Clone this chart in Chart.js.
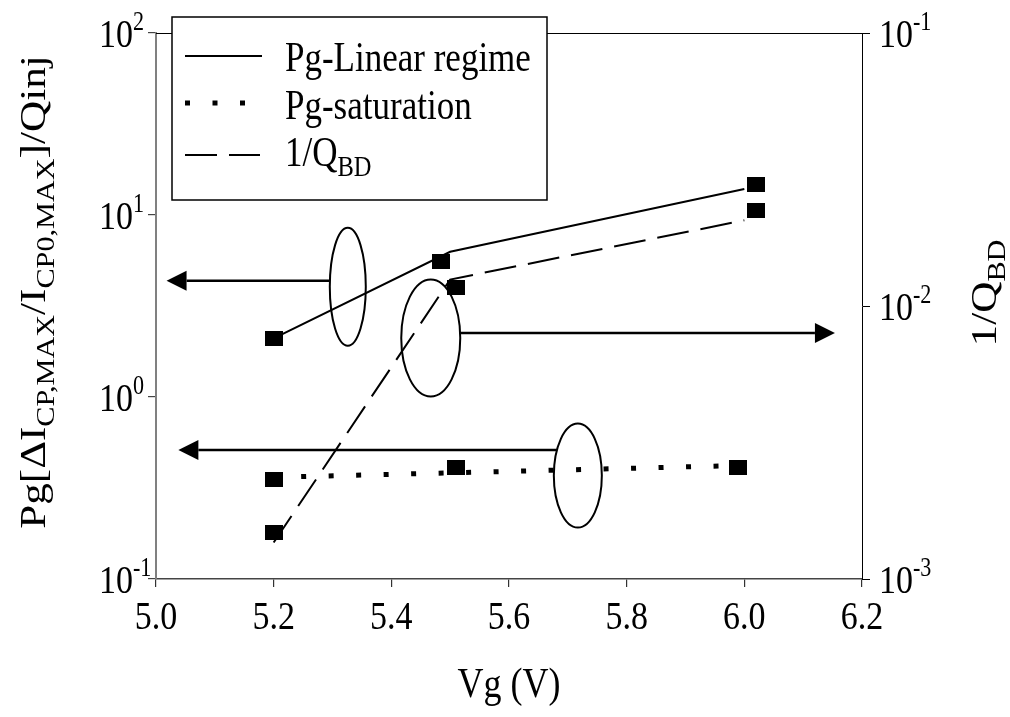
<!DOCTYPE html>
<html>
<head>
<meta charset="utf-8">
<script src="https://cdn.jsdelivr.net/npm/chart.js@4.4.0/dist/chart.umd.min.js"></script>
<style>
  html, body { margin: 0; padding: 0; background: #fff; }
  #wrap { width: 1010px; height: 717px; }
</style>
</head>
<body>
<div id="wrap"><canvas id="myChart"></canvas></div>
<script>
// measured points
const linearVg = [5.20, 5.485, 6.02];
const linearPg = [2.09, 5.57, 14.7];
const satVg = [5.20, 5.51, 5.99];
const satPg = [0.35, 0.41, 0.41];
const qbdVg = [5.20, 5.51, 6.02];
const qbdInv = [0.00148, 0.0117, 0.0224];

// guide curves
const linearFitVg = [5.20, 5.50, 6.00];
const linearFitPg = [2.10, 6.28, 13.9];
const satFitVg = [5.20, 5.50, 6.00];
const satFitPg = [0.362, 0.383, 0.421];
const qbdFitVg = [5.20, 5.50, 6.00];
const qbdFitInv = [0.00136, 0.0125, 0.0206];

// axes
const xTicks = [5.0, 5.2, 5.4, 5.6, 5.8, 6.0, 6.2];
const xTickLabels = ['5.0', '5.2', '5.4', '5.6', '5.8', '6.0', '6.2'];
const leftTicks = [0.1, 1, 10, 100];
const leftExp = ['-1', '0', '1', '2'];
const rightTicks = [0.001, 0.01, 0.1];
const rightExp = ['-3', '-2', '-1'];

// ovals + arrows pointing to the axis each curve belongs to (centre in data units, radii in px)
const ovals = [
  { x: 5.326, y: 4.03, rx: 18, ry: 59 },
  { x: 5.467, y: 2.11, rx: 29.5, ry: 58.5 },
  { x: 5.717, y: 0.370, rx: 24, ry: 52 }
];
const arrows = [
  { oval: 0, y: 4.35, to: 5.018 },
  { oval: 1, y: 2.25, to: 6.154 },
  { oval: 2, y: 0.512, to: 5.038 }
];

const FONT = '"Liberation Serif", "Times New Roman", serif';
const STRETCH = 1.2; // the original figure is a bit taller than wide

function pts(xs, ys) { return xs.map((x, i) => ({ x: x, y: ys[i] })); }

// black square marker, slightly wider than tall like the original
const marker = document.createElement('canvas');
marker.width = 18; marker.height = 15;
const mctx = marker.getContext('2d');
mctx.fillStyle = '#000';
mctx.fillRect(0, 0, 18, 15);

function drawRich(ctx, parts, x, y, size, align, rotate) {
  ctx.save();
  ctx.translate(x, y);
  ctx.scale(1, STRETCH);
  if (rotate) ctx.rotate(-Math.PI / 2);
  let w = 0;
  parts.forEach(p => {
    ctx.font = (size * (p.s || 1)) + 'px ' + FONT;
    w += ctx.measureText(p.t).width;
  });
  let cx = align === 'center' ? -w / 2 : (align === 'right' ? -w : 0);
  ctx.fillStyle = '#000';
  ctx.textBaseline = 'alphabetic';
  ctx.textAlign = 'left';
  parts.forEach(p => {
    ctx.font = (size * (p.s || 1)) + 'px ' + FONT;
    ctx.fillText(p.t, cx, (p.dy || 0) * size);
    cx += ctx.measureText(p.t).width;
  });
  ctx.restore();
}

const sup = t => ({ t: t, s: 0.65, dy: -0.42 });
const sub = t => ({ t: t, s: 0.7, dy: 0.24 });

const decorations = {
  id: 'decorations',
  afterDraw(chart) {
    const ctx = chart.ctx;
    const a = chart.chartArea;
    const xs = chart.scales.x, yl = chart.scales.y, yr = chart.scales.y2;

    // top frame line
    ctx.save();
    ctx.strokeStyle = '#000';
    ctx.lineWidth = 1;
    ctx.beginPath();
    ctx.moveTo(a.left, a.top + 0.5);
    ctx.lineTo(a.right, a.top + 0.5);
    ctx.stroke();
    ctx.restore();

    // tick labels
    xTicks.forEach((v, i) => {
      drawRich(ctx, [{ t: xTickLabels[i] }], xs.getPixelForValue(v), 629, 34, 'center');
    });
    leftTicks.forEach((v, i) => {
      drawRich(ctx, [{ t: '10' }, sup(leftExp[i])], 99, yl.getPixelForValue(v) + 14, 34, 'left');
    });
    rightTicks.forEach((v, i) => {
      drawRich(ctx, [{ t: '10' }, sup(rightExp[i])], 879, yr.getPixelForValue(v) + 14, 34, 'left');
    });

    // axis titles
    drawRich(ctx, [{ t: 'Vg (V)' }], 509, 697, 36, 'center');
    drawRich(ctx, [{ t: 'Pg[ΔI' }, sub('CP,MAX'), { t: '/I' }, sub('CP0,MAX'), { t: ']/Qinj' }],
      45, 292, 36, 'center', true);
    drawRich(ctx, [{ t: '1/Q' }, sub('BD')], 996, 293, 36, 'center', true);

    // ovals and arrows
    ctx.save();
    ctx.strokeStyle = '#000';
    ctx.fillStyle = '#000';
    ovals.forEach(o => {
      ctx.lineWidth = 2;
      ctx.beginPath();
      ctx.ellipse(xs.getPixelForValue(o.x), yl.getPixelForValue(o.y), o.rx, o.ry, 0, 0, Math.PI * 2);
      ctx.stroke();
    });
    arrows.forEach(ar => {
      const o = ovals[ar.oval];
      const cx = xs.getPixelForValue(o.x), cy = yl.getPixelForValue(o.y);
      const y = yl.getPixelForValue(ar.y);
      const tip = xs.getPixelForValue(ar.to);
      const dir = tip < cx ? -1 : 1;
      const dy = (y - cy) / o.ry;
      const start = cx + dir * o.rx * Math.sqrt(Math.max(0, 1 - dy * dy));
      const base = tip - dir * 20;
      ctx.lineWidth = 2.5;
      ctx.beginPath();
      ctx.moveTo(start, y);
      ctx.lineTo(base, y);
      ctx.stroke();
      ctx.beginPath();
      ctx.moveTo(tip, y);
      ctx.lineTo(base, y - 10);
      ctx.lineTo(base, y + 10);
      ctx.closePath();
      ctx.fill();
    });
    ctx.restore();

    // legend box
    const lx = 172, ly = 17, lw = 375, lh = 183;
    ctx.save();
    ctx.fillStyle = '#fff';
    ctx.fillRect(lx, ly, lw, lh);
    ctx.strokeStyle = '#000';
    ctx.lineWidth = 1.5;
    ctx.strokeRect(lx, ly, lw, lh);
    const rows = [
      { ds: chart.data.datasets[3], y: 56, parts: [{ t: 'Pg-Linear regime' }], base: 71, x2: 262 },
      { ds: chart.data.datasets[4], y: 103, parts: [{ t: 'Pg-saturation' }], base: 119, x2: 246 },
      { ds: chart.data.datasets[5], y: 155, parts: [{ t: '1/Q' }, sub('BD')], base: 166, x2: 260 }
    ];
    rows.forEach(r => {
      ctx.save();
      ctx.strokeStyle = r.ds.borderColor;
      ctx.lineWidth = r.ds.borderWidth;
      ctx.lineCap = 'butt';
      ctx.setLineDash(r.ds.borderDash || []);
      ctx.beginPath();
      ctx.moveTo(185, r.y);
      ctx.lineTo(r.x2, r.y);
      ctx.stroke();
      ctx.restore();
      drawRich(ctx, r.parts, 285, r.base, 35, 'left');
    });
    ctx.restore();
  }
};

const ctx = document.getElementById('myChart');

new Chart(ctx, {
  type: 'scatter',
  data: {
    datasets: [
      { label: 'Pg-Linear regime data', data: pts(linearVg, linearPg), yAxisID: 'y',
        pointStyle: marker, pointRadius: 9, backgroundColor: '#000', borderColor: '#000' },
      { label: 'Pg-saturation data', data: pts(satVg, satPg), yAxisID: 'y',
        pointStyle: marker, pointRadius: 9, backgroundColor: '#000', borderColor: '#000' },
      { label: '1/QBD data', data: pts(qbdVg, qbdInv), yAxisID: 'y2',
        pointStyle: marker, pointRadius: 9, backgroundColor: '#000', borderColor: '#000' },
      { label: 'Pg-Linear regime', data: pts(linearFitVg, linearFitPg), yAxisID: 'y',
        showLine: true, pointRadius: 0, borderColor: '#000', borderWidth: 2, tension: 0 },
      { label: 'Pg-saturation', data: pts(satFitVg, satFitPg), yAxisID: 'y',
        showLine: true, pointRadius: 0, borderColor: '#000', borderWidth: 5,
        borderDash: [5, 22.5], borderCapStyle: 'butt', tension: 0 },
      { label: '1/QBD', data: pts(qbdFitVg, qbdFitInv), yAxisID: 'y2',
        showLine: true, pointRadius: 0, borderColor: '#000', borderWidth: 2,
        borderDash: [32, 12], tension: 0 }
    ]
  },
  options: {
    responsive: true,
    maintainAspectRatio: false,
    animation: false,
    layout: { padding: { top: 33, right: 0, bottom: 0, left: 0 } },
    plugins: { legend: { display: false }, tooltip: { enabled: false } },
    scales: {
      x: {
        type: 'linear', position: 'bottom', min: 5, max: 6.2,
        afterBuildTicks: s => { s.ticks = xTicks.map(v => ({ value: v })); },
        afterFit: s => { s.height = 138; },
        ticks: { display: false },
        grid: { drawOnChartArea: false, drawTicks: true, tickLength: 8, color: '#333', lineWidth: 1.2 },
        border: { display: true, color: '#444', width: 1.5 }
      },
      y: {
        type: 'logarithmic', position: 'left', min: 0.1, max: 100,
        afterBuildTicks: s => { s.ticks = leftTicks.map(v => ({ value: v })); },
        afterFit: s => { s.width = 156; },
        ticks: { display: false },
        grid: { drawOnChartArea: false, drawTicks: true, tickLength: 8, color: '#444', lineWidth: 1.2 },
        border: { display: true, color: '#808080', width: 2 }
      },
      y2: {
        type: 'logarithmic', position: 'right', min: 0.001, max: 0.1,
        afterBuildTicks: s => { s.ticks = rightTicks.map(v => ({ value: v })); },
        afterFit: s => { s.width = 148; },
        ticks: { display: false },
        grid: { drawOnChartArea: false, drawTicks: true, tickLength: 8, color: '#000', lineWidth: 1 },
        border: { display: true, color: '#000', width: 1 }
      }
    }
  },
  plugins: [decorations]
});
</script>
</body>
</html>
